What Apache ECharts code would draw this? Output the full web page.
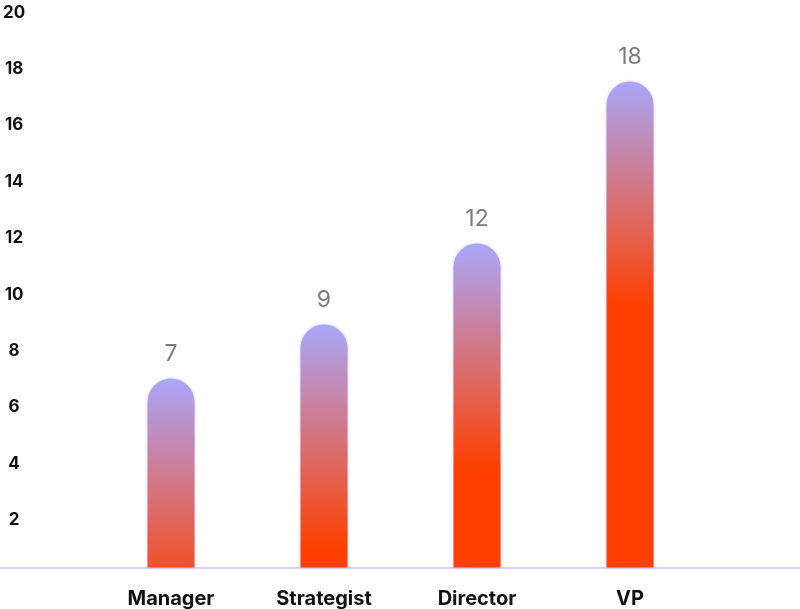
<!DOCTYPE html>
<html>
<head>
<meta charset="utf-8">
<script src="https://cdn.jsdelivr.net/npm/echarts@6/dist/echarts.min.js"></script>
<style>
html,body{margin:0;padding:0;background:#fff;}
#chart{width:800px;height:609px;}
</style>
</head>
<body>
<div id="chart"></div>
<script>
const categories = ['Manager', 'Strategist', 'Director', 'VP'];
const values = [7, 9, 12, 18];
const yTicks = [2, 4, 6, 8, 10, 12, 14, 16, 18, 20];

const TOP = [170, 166, 250];
const BOTTOM = [255, 64, 0];
const FADE_UNITS = 8.3;
function mix(a, b, t) {
  const c = a.map((v, i) => Math.round(v + (b[i] - v) * t));
  return 'rgb(' + c.join(',') + ')';
}
function barColor(v) {
  const f = FADE_UNITS / v;
  if (f >= 1) {
    return new echarts.graphic.LinearGradient(0, 0, 0, 1, [
      { offset: 0, color: mix(TOP, BOTTOM, 0) },
      { offset: 1, color: mix(TOP, BOTTOM, 1 / f) }
    ]);
  }
  return new echarts.graphic.LinearGradient(0, 0, 0, 1, [
    { offset: 0, color: mix(TOP, BOTTOM, 0) },
    { offset: f, color: mix(TOP, BOTTOM, 1) },
    { offset: 1, color: mix(TOP, BOTTOM, 1) }
  ]);
}

const chart = echarts.init(document.getElementById('chart'));
chart.setOption({
  animation: false,
  backgroundColor: '#ffffff',
  textStyle: { fontFamily: 'Inter' },
  grid: [
    { left: 94.5, right: 93.5, top: 27.5, bottom: 41.5 },
    { left: 0, right: 0, top: 12.5, bottom: 32.5 }
  ],
  xAxis: [
    {
      gridIndex: 0, type: 'category', data: categories,
      axisLine: { show: false }, axisTick: { show: false },
      axisLabel: { color: '#111', fontSize: 20, fontWeight: 'bold', fontFamily: 'Inter', margin: 21 }
    },
    {
      gridIndex: 1, type: 'value', min: 0, max: 1, offset: -9,
      axisLine: { show: true, lineStyle: { color: '#d6d2fc', width: 2 } },
      axisTick: { show: false }, axisLabel: { show: false }, splitLine: { show: false }
    }
  ],
  yAxis: [
    { gridIndex: 0, type: 'value', min: 0, max: 20, show: false, splitLine: { show: false } },
    {
      gridIndex: 1, type: 'value', min: 0, max: yTicks[yTicks.length - 1], interval: yTicks[1] - yTicks[0],
      axisLine: { show: false }, axisTick: { show: false }, splitLine: { show: false },
      axisLabel: {
        inside: true, align: 'center', margin: 14, showMinLabel: false,
        color: '#111', fontSize: 17, fontWeight: 'bold', fontFamily: 'Inter'
      }
    }
  ],
  series: [{
    type: 'bar',
    xAxisIndex: 0, yAxisIndex: 0,
    barWidth: 47,
    data: values.map(v => ({
      value: v,
      itemStyle: {
        color: barColor(v),
        borderRadius: [23.5, 23.5, 0, 0],
        shadowColor: 'rgba(175,165,255,0.7)',
        shadowBlur: 3
      }
    })),
    label: {
      show: true, position: 'top', distance: 13,
      color: '#7a7a7a', fontSize: 23, fontFamily: 'Inter', fontWeight: 'normal'
    }
  }]
});
</script>
</body>
</html>
